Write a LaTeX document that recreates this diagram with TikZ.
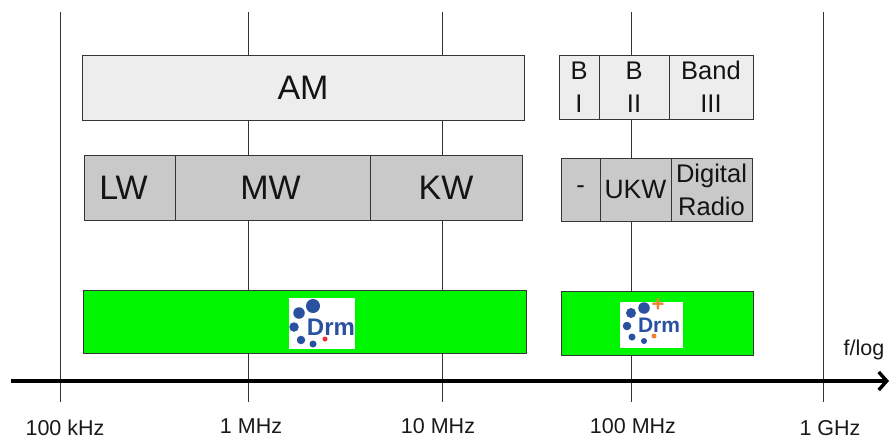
\documentclass[tikz,border=0pt]{standalone}
\usepackage{fontspec}
\setmainfont{Liberation Sans}
\usetikzlibrary{arrows.meta}
\definecolor{amfill}{HTML}{EDEDED}
\definecolor{wavefill}{HTML}{C9C9C9}
\definecolor{drmgreen}{HTML}{00F500}
\definecolor{edge}{HTML}{353535}
\definecolor{drmblue}{HTML}{2A50A0}
\definecolor{drmred}{HTML}{F03030}
\definecolor{drmorange}{HTML}{F08030}
\tikzset{
  x=1pt,y=-1pt,
  cell/.style={draw=edge,line width=0.85pt,inner sep=0pt,outer sep=0pt,anchor=north west,align=center,text=black!92},
  am/.style={cell,fill=amfill},
  wave/.style={cell,fill=wavefill},
  band/.style={cell,fill=drmgreen},
  big/.style={font=\fontsize{34}{36}\selectfont},
  mid/.style={font=\fontsize{25.5}{33}\selectfont},
  grid line/.style={draw=black!80,line width=1pt},
  tick label/.style={font=\fontsize{21.5}{24}\selectfont,text=black!90,inner sep=0pt},
  logo bg/.style={fill=white,draw=none,inner sep=0pt,outer sep=0pt},
  dot/.style={circle,fill=drmblue,inner sep=0pt,outer sep=0pt},
  axis line/.style={draw=black,line width=3.8pt,-{Straight Barb[length=8pt,width=18pt,line width=3.4pt]}},
}
\begin{document}
\begin{tikzpicture}
\useasboundingbox (0,0) rectangle (889,439);
% grid line ends
\foreach \n/\xx in {a/60,b/248,c/442,d/631,e/823}{
  \coordinate (\n top) at (\xx,12);
  \coordinate (\n bot) at (\xx,402);
  \draw[grid line] (\n top) -- (\n bot);
}
% AM row
\node[am,big,minimum width=442pt,minimum height=65pt] (am) at (82,55) {AM};
\node[am,mid,minimum width=40pt,minimum height=64pt] (b1) at (559,55) {B\\I};
\node[am,mid,minimum width=70pt,minimum height=64pt] (b2) at (599,55) {B\\II};
\node[am,mid,minimum width=84pt,minimum height=64pt] (b3) at (669,55) {Band\\III};
% wave row
\node[wave,big,minimum width=91pt,minimum height=65pt,text width=91pt] (lw) at (84,155) {\hspace*{-12pt}LW};
\node[wave,big,minimum width=195pt,minimum height=65pt,text width=195pt] (mw) at (175,155) {\hspace*{-4pt}MW};
\node[wave,big,minimum width=152pt,minimum height=65pt] (kw) at (370,155) {KW};
\node[wave,mid,minimum width=39pt,minimum height=63pt] (dash) at (561,158) {-};
\node[wave,mid,font=\fontsize{26.5}{33}\selectfont,minimum width=71pt,minimum height=63pt] (ukw) at (600,158) {UKW};
\node[wave,mid,minimum width=81pt,minimum height=63pt] (dig) at (671,158) {Digital\\Radio};
% green bands
\node[band,minimum width=443pt,minimum height=63pt] (g1) at (83,290) {};
\node[band,minimum width=192pt,minimum height=64pt] (g2) at (561,291) {};
% logo 1
\node[logo bg,anchor=north west,minimum width=66pt,minimum height=51pt] (l1) at (289,298) {};
\node[dot,minimum size=14pt] (l1a) at (313,306) {};
\node[dot,minimum size=11.5pt] (l1b) at (299,313) {};
\node[dot,minimum size=9.5pt] (l1c) at (294,327) {};
\node[dot,minimum size=8.5pt] (l1d) at (301,340) {};
\node[dot,minimum size=7pt] (l1e) at (313,344) {};
\node[dot,fill=drmred,minimum size=5pt] (l1f) at (325,339) {};
\node[font=\bfseries\fontsize{24}{24}\selectfont,text=drmblue,inner sep=0pt] (l1t) at (331,327) {Drm};
% logo 2
\node[logo bg,anchor=north west,minimum width=63pt,minimum height=46pt] (l2) at (620,302) {};
\node[dot,minimum size=11.5pt] (l2a) at (644,308) {};
\node[dot,minimum size=10pt] (l2b) at (631,313) {};
\node[dot,minimum size=8.5pt] (l2c) at (627,326) {};
\node[dot,minimum size=7pt] (l2d) at (632,337) {};
\node[dot,minimum size=6pt] (l2e) at (644,341) {};
\node[dot,fill=drmorange,minimum size=5pt] (l2f) at (654,336) {};
\node[font=\bfseries\fontsize{21}{21}\selectfont,text=drmblue,inner sep=0pt] (l2t) at (659,325) {Drm};
\node[font=\bfseries\fontsize{22}{22}\selectfont,text=drmorange,inner sep=0pt] (l2p) at (658,305) {+};
% axis
\coordinate (axis start) at (11,381);
\coordinate (axis end) at (889,381);
\draw[axis line] (axis start) -- (axis end);
% labels
\node[tick label] (t1) at (65,428) {100 kHz};
\node[tick label] (t2) at (251,426) {1 MHz};
\node[tick label] (t3) at (438,426) {10 MHz};
\node[tick label] (t4) at (633,426) {100 MHz};
\node[tick label] (t5) at (830,428) {1 GHz};
\node[tick label] (t6) at (864,350) {f/log};
\end{tikzpicture}
\end{document}
